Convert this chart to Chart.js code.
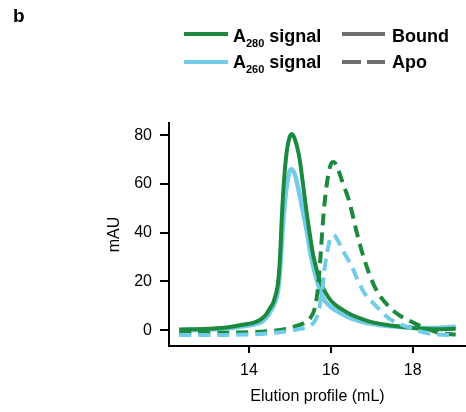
<!DOCTYPE html>
<html>
<head>
<meta charset="utf-8">
<script src="https://cdn.jsdelivr.net/npm/chart.js@4"></script>
<style>
  body { margin: 0; background: #fff; }
  #wrap { position: relative; width: 466px; height: 412px; font-family: Arial, "Liberation Sans", Helvetica, sans-serif; }
  canvas { position: absolute; left: 0; top: 0; }
  .lbl { position: absolute; font-weight: bold; font-size: 18px; line-height: 18px; color: #000; white-space: nowrap; }
  .lbl sub { font-size: 11px; line-height: 0; vertical-align: -5px; }
  .swatch { position: absolute; height: 4px; }
</style>
</head>
<body>
<div id="wrap">
  <canvas id="elutionChart" width="466" height="412"></canvas>
  <div class="lbl" style="left:13px; top:7px; font-size:19px;">b</div>

  <div class="swatch" style="left:184px; top:32px; width:44px; background:#1b8a3e;"></div>
  <div class="lbl" style="left:233px; top:27px;">A<sub>280</sub> signal</div>
  <div class="swatch" style="left:184px; top:60px; width:44px; background:#72cbe9;"></div>
  <div class="lbl" style="left:233px; top:53px;">A<sub>260</sub> signal</div>

  <div class="swatch" style="left:342px; top:32px; width:43px; background:#6e6e6e;"></div>
  <div class="lbl" style="left:392px; top:27px;">Bound</div>
  <div class="swatch" style="left:342px; top:60px; width:19px; background:#6e6e6e;"></div>
  <div class="swatch" style="left:367px; top:60px; width:18px; background:#6e6e6e;"></div>
  <div class="lbl" style="left:392px; top:53px;">Apo</div>
</div>
<script>
// elution volumes (mL) and absorbance (mAU)
const boundA280X = [12.3, 13.0, 13.5, 13.85, 14.1, 14.27, 14.4, 14.5, 14.6, 14.7, 14.76, 14.8, 14.86, 14.93, 15.0, 15.05, 15.12, 15.22, 15.32, 15.42, 15.5, 15.58, 15.74, 15.94, 16.1, 16.3, 16.5, 16.72, 17.0, 17.46, 18.0, 18.5, 19.05];
const boundA280Y = [0.3, 0.6, 1.2, 2.2, 3.0, 4.2, 6, 8.6, 11.5, 18, 30, 45, 62, 74, 79.5, 80.5, 78.5, 72, 60, 47, 38, 30, 20, 13.5, 10.5, 8.2, 6.3, 4.8, 3.3, 1.9, 0.9, 0.4, 0.6];

const boundA260X = [12.3, 13.0, 13.5, 13.85, 14.1, 14.3, 14.42, 14.52, 14.62, 14.71, 14.77, 14.82, 14.88, 14.95, 15.0, 15.05, 15.12, 15.22, 15.35, 15.42, 15.52, 15.65, 15.82, 16.0, 16.23, 16.5, 16.72, 17.0, 17.46, 18.0, 18.5, 19.05];
const boundA260Y = [0, 0.3, 0.8, 1.6, 2.3, 3.3, 5, 7.5, 10.5, 16, 27, 40, 53, 62, 65.5, 66, 64, 57, 46, 40, 30, 21, 13, 9.5, 7, 4.8, 3.6, 2.6, 1.6, 1.0, 0.9, 1.4];

const apoA280X = [12.3, 13.0, 14.0, 14.5, 14.9, 15.18, 15.35, 15.5, 15.6, 15.67, 15.73, 15.78, 15.83, 15.88, 15.94, 16.0, 16.06, 16.13, 16.2, 16.3, 16.43, 16.55, 16.65, 16.8, 17.0, 17.2, 17.46, 17.7, 17.9, 18.1, 18.3, 18.5, 18.75, 19.05];
const apoA280Y = [-1.2, -1.1, -0.9, -0.4, 0.5, 1.8, 3, 5, 8.5, 15, 26, 38, 49, 57, 64, 68, 69, 68, 65, 60, 54, 46, 39, 30, 20.5, 14, 9, 5.8, 4, 2.4, 1.0, -0.4, -1.4, -1.8];

const apoA260X = [12.3, 13.0, 14.0, 14.5, 15.0, 15.2, 15.4, 15.55, 15.65, 15.73, 15.8, 15.87, 15.94, 16.0, 16.08, 16.18, 16.3, 16.42, 16.53, 16.67, 16.85, 17.1, 17.3, 17.5, 17.88, 18.27, 18.6, 19.05];
const apoA260Y = [-2, -2, -1.8, -1.3, -0.3, 0.4, 1.2, 2.5, 5, 10, 18, 28, 34.5, 38, 39, 36.5, 32.5, 29, 25.5, 20, 14.5, 10, 6.5, 4, 1.2, -0.9, -1.8, -2];

const xTickValues = [14, 16, 18];
const yTickValues = [0, 20, 40, 60, 80];

const green = '#1b8a3e';
const lightBlue = '#72cbe9';

function toPoints(xs, ys) {
    return xs.map((x, i) => ({ x: x, y: ys[i] }));
}

function lineSet(label, xs, ys, color, width, dash) {
    return {
        label: label,
        data: toPoints(xs, ys),
        borderColor: color,
        borderWidth: width,
        borderDash: dash,
        pointRadius: 0,
        fill: false,
        tension: 0.35
    };
}

const fontFamily = 'Arial, "Liberation Sans", Helvetica, sans-serif';

const ctx = document.getElementById('elutionChart').getContext('2d');
new Chart(ctx, {
    type: 'line',
    data: {
        datasets: [
            lineSet('Apo A260', apoA260X, apoA260Y, lightBlue, 4, [12, 7]),
            lineSet('Apo A280', apoA280X, apoA280Y, green, 4, [12, 7]),
            lineSet('Bound A280', boundA280X, boundA280Y, green, 4, []),
            lineSet('Bound A260', boundA260X, boundA260Y, lightBlue, 4.5, [])
        ]
    },
    options: {
        responsive: false,
        animation: false,
        layout: { padding: { top: 123, right: 0, bottom: 6, left: 0 } },
        plugins: { legend: { display: false }, tooltip: { enabled: false } },
        scales: {
            x: {
                type: 'linear',
                min: 12.05,
                max: 19.3,
                afterBuildTicks: scale => { scale.ticks = xTickValues.map(v => ({ value: v })); },
                afterFit: scale => { scale.height = 60; },
                ticks: { color: '#000', padding: 8, font: { family: fontFamily, size: 16 } },
                grid: { drawOnChartArea: false, drawTicks: true, tickLength: 7, color: '#000', lineWidth: 2 },
                border: { display: true, color: '#000', width: 2 },
                title: { display: true, text: 'Elution profile (mL)', color: '#000', padding: { top: 0, bottom: 0 }, font: { family: fontFamily, size: 16 } }
            },
            y: {
                min: -6.5,
                max: 85,
                afterBuildTicks: scale => { scale.ticks = yTickValues.map(v => ({ value: v })); },
                afterFit: scale => { scale.width = 169; },
                ticks: { color: '#000', padding: 8, font: { family: fontFamily, size: 16 } },
                grid: { drawOnChartArea: false, drawTicks: true, tickLength: 9, color: '#000', lineWidth: 2 },
                border: { display: true, color: '#000', width: 2 },
                title: { display: true, text: 'mAU', color: '#000', padding: { top: 105, bottom: 0 }, font: { family: fontFamily, size: 16 } }
            }
        }
    }
});
</script>
</body>
</html>
